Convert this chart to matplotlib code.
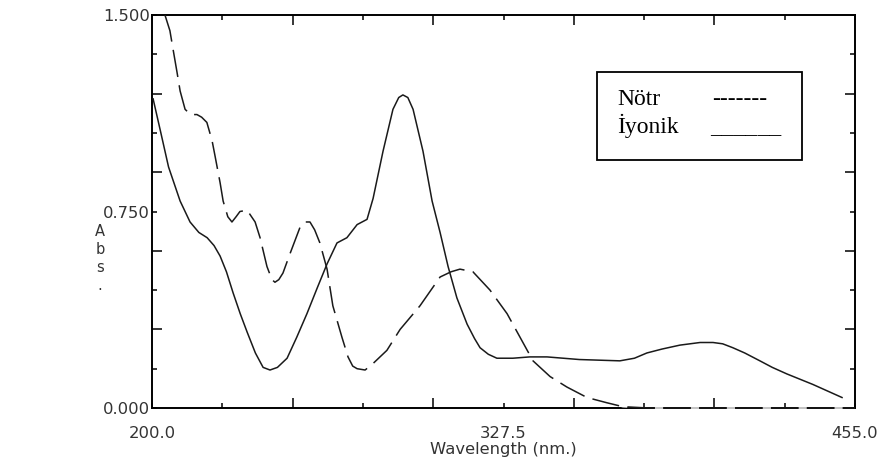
import matplotlib
matplotlib.use("Agg")
from matplotlib import pyplot as plt
from matplotlib.patches import Rectangle

# İyonik (solid) - wavelength (nm) and absorbance
ion_wl = [200.4, 203.0, 206.0, 210.2, 213.8, 217.0, 220.0, 222.5, 224.7, 227.0, 229.4, 232.0,
          234.5, 237.5, 240.3, 242.8, 245.5, 249.0, 252.5, 256.2, 260.0, 263.5, 267.1, 270.7,
          274.4, 278.0, 280.2, 283.8, 287.4, 289.5, 291.0, 292.8, 294.7, 298.3, 301.6, 304.5,
          307.4, 310.6, 314.3, 317.0, 319.0, 322.0, 325.1, 330.9, 337.0, 343.3, 355.0, 369.7,
          375.0, 379.5, 385.0, 391.5, 398.8, 403.5, 407.0, 410.7, 415.0, 420.5, 425.0, 430.3,
          435.0, 439.7, 445.0, 450.3]
ion_abs = [1.18, 1.06, 0.92, 0.79, 0.71, 0.67, 0.65, 0.62, 0.58, 0.52, 0.44, 0.36,
           0.29, 0.21, 0.155, 0.145, 0.155, 0.19, 0.27, 0.36, 0.46, 0.55, 0.63, 0.65,
           0.70, 0.72, 0.80, 0.98, 1.14, 1.185, 1.195, 1.185, 1.14, 0.98, 0.79, 0.67,
           0.54, 0.42, 0.32, 0.265, 0.23, 0.205, 0.19, 0.19, 0.195, 0.195, 0.185, 0.18,
           0.19, 0.21, 0.225, 0.24, 0.25, 0.25, 0.245, 0.23, 0.21, 0.18, 0.155, 0.13,
           0.11, 0.09, 0.065, 0.04]

# Nötr (dashed)
neu_wl = [204.7, 206.5, 207.3, 209.1, 210.2, 212.0, 214.0, 216.3, 218.0, 219.9, 221.8, 222.9,
          224.7, 225.8, 227.5, 229.0, 230.5, 231.9, 234.5, 237.4, 239.2, 241.7, 243.5, 244.6,
          246.0, 247.5, 250.1, 253.7, 255.5, 257.3, 259.0, 260.9, 263.5, 265.6, 268.9, 271.1,
          272.8, 274.4, 277.3, 280.2, 285.2, 290.0, 297.2, 304.5, 308.5, 311.7, 316.4, 322.6,
          328.8, 333.5, 338.2, 344.4, 350.5, 357.8, 365.0, 370.8, 380.0, 400.0, 430.0, 455.0]
neu_abs = [1.50, 1.44, 1.39, 1.28, 1.21, 1.14, 1.12, 1.12, 1.11, 1.09, 1.02, 0.96,
           0.86, 0.79, 0.73, 0.71, 0.73, 0.75, 0.755, 0.71, 0.65, 0.54, 0.49, 0.48,
           0.49, 0.515, 0.59, 0.69, 0.71, 0.71, 0.68, 0.63, 0.53, 0.39, 0.27, 0.195,
           0.16, 0.15, 0.145, 0.17, 0.22, 0.30, 0.39, 0.50, 0.52, 0.53, 0.52, 0.45,
           0.36, 0.27, 0.18, 0.12, 0.08, 0.04, 0.02, 0.005, 0.0, 0.0, 0.0, 0.0]

x_ticks = [200.0, 225.5, 251.0, 276.5, 302.0, 327.5, 353.0, 378.5, 404.0, 429.5, 455.0]
x_labels = ['200.0', '', '', '', '', '327.5', '', '', '', '', '455.0']
y_ticks = [0.0, 0.15, 0.30, 0.45, 0.60, 0.75, 0.90, 1.05, 1.20, 1.35, 1.50]
y_labels = ['0.000', '', '', '', '', '0.750', '', '', '', '', '1.500']

fig = plt.figure(figsize=(8.85, 4.72), dpi=100)
ax = fig.add_axes([152 / 885, 1 - 408 / 472, 703 / 885, 393 / 472])

ax.plot(neu_wl, neu_abs, color='#1a1a1a', lw=1.1, dashes=(18, 5.5), gapcolor='white',
        zorder=3, clip_on=False)
ax.plot(ion_wl, ion_abs, color='#1a1a1a', lw=1.1, zorder=3.2)

ax.set_xlim(200, 455)
ax.set_ylim(0, 1.5)
ax.set_xticks(x_ticks)
ax.set_xticklabels(x_labels)
ax.set_yticks(y_ticks)
ax.set_yticklabels(y_labels)
ax.tick_params(direction='in', top=True, right=True, width=1.1, length=3.5,
               labelsize=11.8, labelcolor='#333333', color='black')
ax.tick_params(axis='x', pad=13)
ax.tick_params(axis='y', pad=1.5)

# long and short ticks alternate
for i, t in enumerate(ax.xaxis.get_major_ticks()):
    if i % 2 == 0 and 0 < i < len(x_ticks) - 1:
        t.tick1line.set_markersize(7)
        t.tick2line.set_markersize(7)
for i, t in enumerate(ax.yaxis.get_major_ticks()):
    if i % 2 == 0 and 0 < i < len(y_ticks) - 1:
        t.tick1line.set_markersize(7)
        t.tick2line.set_markersize(7)

for s in ax.spines.values():
    s.set_linewidth(1.4)

ax.set_xlabel('Wavelength (nm.)', fontsize=11.8, color='#333333', labelpad=1)
fig.text(100 / 885, 1 - 258 / 472, 'A\nb\ns\n.', fontsize=10.5, color='#333333',
         ha='center', va='center', linespacing=1.25)

# legend box drawn as in the original (text samples)
fig.patches.append(Rectangle((597 / 885, 1 - 160 / 472), 205 / 885, 88 / 472,
                             transform=fig.transFigure, fill=False, ec='black', lw=1.3))
serif = dict(family='Liberation Serif', fontsize=17, va='baseline')
fig.text(617 / 885, 1 - 105 / 472, 'Nötr', **serif)
fig.text(712 / 885, 1 - 105 / 472, '-------', **serif)
fig.text(617 / 885, 1 - 133 / 472, 'İyonik', **serif)
fig.text(710 / 885, 1 - 133 / 472, '______', **serif)

fig.savefig('out.png', dpi=100)
